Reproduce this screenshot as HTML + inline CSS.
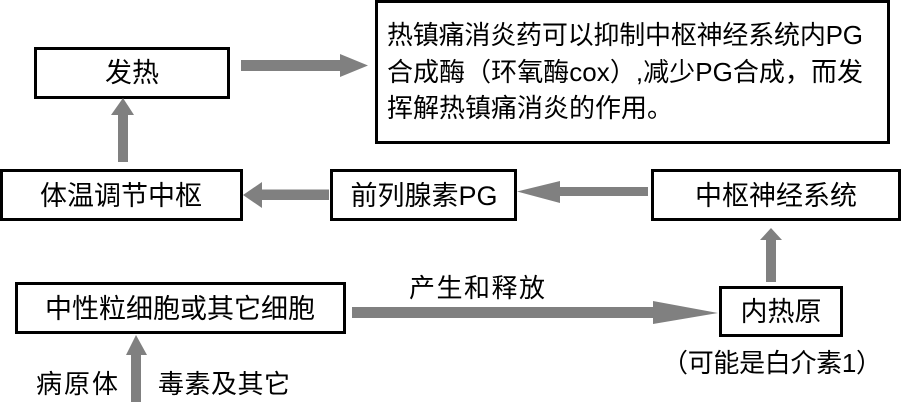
<!DOCTYPE html>
<html><head><meta charset="utf-8"><style>
html,body{margin:0;padding:0;background:#fff;}
svg{display:block;}
text{font-family:"Liberation Sans","Noto Sans CJK SC",sans-serif;fill:#000;}
</style></head><body>
<svg width="906" height="415" viewBox="0 0 906 415" xmlns="http://www.w3.org/2000/svg">
<g fill="none" stroke="#000" stroke-width="3">
<rect x="35.5" y="48.5" width="193" height="49"/>
<rect x="376.5" y="1.5" width="512" height="141"/>
<rect x="1.5" y="170.5" width="240" height="49"/>
<rect x="331.5" y="170.5" width="184" height="49"/>
<rect x="652.5" y="170.5" width="247" height="49"/>
<rect x="16.5" y="283.5" width="328" height="49"/>
<rect x="720.5" y="287.5" width="121" height="48"/>
</g>
<g fill="#808080">
<polygon points="123,98 134,115 128,115 128,162 118,162 118,115 111,115"/>
<polygon points="241,60 340,60 340,54 368,65.5 340,77 340,71 241,71"/>
<polygon points="243,195 262,182 262,189.5 329,189.5 329,200 262,200 262,208"/>
<polygon points="517,191.5 560,181 560,187 648,187 648,196 560,196 560,203"/>
<polygon points="771,228 782,240 776,240 776,282 766,282 766,240 760,240"/>
<polygon points="352,307 653,307 653,301 718,313 653,324 653,318 352,318"/>
<polygon points="136,335 147,355 141,355 141,402 131,402 131,355 126,355"/>
</g>
<g font-size="27" text-anchor="middle">
<text x="132" y="82">发热</text>
<text x="121" y="205">体温调节中枢</text>
<text x="424" y="205">前列腺素PG</text>
<text x="776" y="205">中枢神经系统</text>
<text x="180" y="318">中性粒细胞或其它细胞</text>
<text x="781" y="321">内热原</text>
</g>
<g font-size="26">
<text x="387" y="44" textLength="476">热镇痛消炎药可以抑制中枢神经系统内PG</text>
<text x="387" y="81" textLength="476">合成酶（环氧酶cox）,减少PG合成，而发</text>
<text x="387" y="117" textLength="286">挥解热镇痛消炎的作用。</text>
<text x="409" y="297" textLength="136">产生和释放</text>
<text x="662" y="372" textLength="220">（可能是白介素1）</text>
<text x="36" y="393" textLength="82">病原体</text>
<text x="158" y="393" textLength="132">毒素及其它</text>
</g>
</svg>
</body></html>
